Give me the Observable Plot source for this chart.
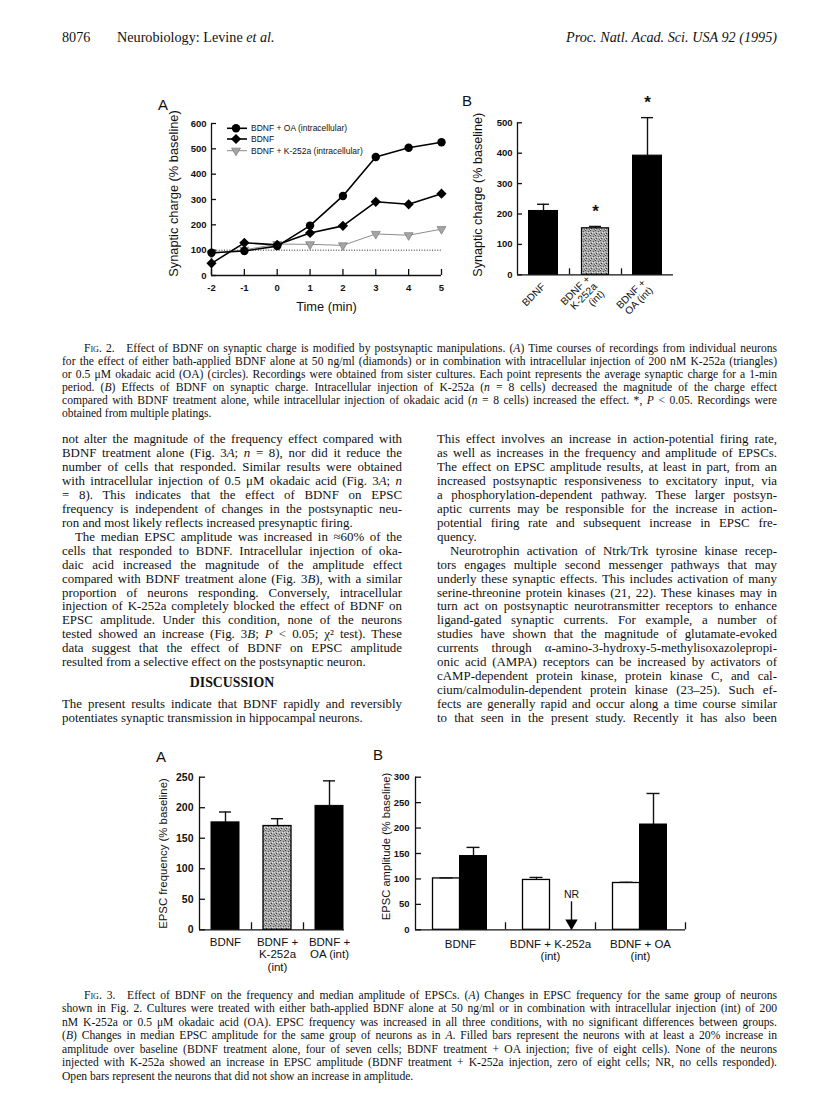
<!DOCTYPE html>
<html><head><meta charset="utf-8">
<script src="https://cdn.jsdelivr.net/npm/d3@7"></script>
<script src="https://cdn.jsdelivr.net/npm/@observablehq/plot@0.6"></script>
<style>
body{margin:0;background:#fff;}
#page{position:relative;width:816px;height:1105px;overflow:hidden;background:#fff;font-family:"Liberation Serif","Times New Roman",serif;color:#111;}
.sc{font-variant:small-caps;}
</style>
</head><body>
<svg width="0" height="0" style="position:absolute">
<defs>
<pattern id="stip" width="5" height="5" patternUnits="userSpaceOnUse">
<rect width="5" height="5" fill="#a8a8a8"/>
<rect x="0" y="0" width="1" height="1" fill="#444"/>
<rect x="3" y="1" width="1" height="1" fill="#555"/>
<rect x="1" y="3" width="1" height="1" fill="#3a3a3a"/>
<rect x="4" y="4" width="1" height="1" fill="#666"/>
<rect x="2" y="2" width="1" height="1" fill="#e8e8e8"/>
<rect x="4" y="2" width="1" height="1" fill="#d8d8d8"/>
<rect x="0" y="4" width="1" height="1" fill="#e0e0e0"/>
</pattern>
</defs>
</svg>
<div id="page"></div>
<script>
// ---------------- DATA ----------------
const timeMin = [-2, -1, 0, 1, 2, 3, 4, 5];
const chargeOA = [90, 97, 116, 197, 314, 468, 504, 526];
const chargeBDNF = [48, 129, 121, 168, 196, 291, 281, 323];
const chargeK252a = [86, 101, 124, 123, 119, 164, 159, 183];
const seriesNames = ["BDNF + OA (intracellular)", "BDNF", "BDNF + K-252a (intracellular)"];
const charge2ATicks = [0, 100, 200, 300, 400, 500, 600];
const baseline = 100;

const fig2BGroups = ["BDNF", "BDNF +\nK-252a\n(int)", "BDNF +\nOA (int)"];
const fig2BCharge = [210, 153, 392];
const fig2BErr = [22, 6, 125];
const fig2BStar = [false, true, true];
const fig2BTicks = [0, 100, 200, 300, 400, 500];

const fig3AGroups = ["BDNF", "BDNF +\nK-252a\n(int)", "BDNF +\nOA (int)"];
const fig3AFreq = [176, 170, 203];
const fig3AErr = [17, 12, 41];
const fig3ATicks = [0, 50, 100, 150, 200, 250];

const fig3BGroups = ["BDNF", "BDNF + K-252a\n(int)", "BDNF + OA\n(int)"];
const fig3BOpen = [101, 98, 92];
const fig3BOpenErr = [1, 5, 1.5];
const fig3BFilled = [145, null, 207];
const fig3BFilledErr = [17, null, 61];
const fig3BTicks = [0, 50, 100, 150, 200, 250, 300];
const nrLabel = "NR";

const headerLeftNum = "8076";
const headerLeft = "Neurobiology: Levine <i>et al.</i>";
const headerRight = "<i>Proc. Natl. Acad. Sci. USA 92 (1995)</i>";

const cap2Lines = [
  '<span class="sc">Fig.</span> 2.&ensp;&ensp;Effect of BDNF on synaptic charge is modified by postsynaptic manipulations. (<i>A</i>) Time courses of recordings from individual neurons',
  'for the effect of either bath-applied BDNF alone at 50 ng/ml (diamonds) or in combination with intracellular injection of 200 nM K-252a (triangles)',
  'or 0.5 μM okadaic acid (OA) (circles). Recordings were obtained from sister cultures. Each point represents the average synaptic charge for a 1-min',
  'period. (<i>B</i>) Effects of BDNF on synaptic charge. Intracellular injection of K-252a (<i>n</i> = 8 cells) decreased the magnitude of the charge effect',
  'compared with BDNF treatment alone, while intracellular injection of okadaic acid (<i>n</i> = 8 cells) increased the effect. *, <i>P</i> &lt; 0.05. Recordings were',
  'obtained from multiple platings.|'
];
const leftCol = [
  'not alter the magnitude of the frequency effect compared with',
  'BDNF treatment alone (Fig. 3<i>A</i>; <i>n</i> = 8), nor did it reduce the',
  'number of cells that responded. Similar results were obtained',
  'with intracellular injection of 0.5 μM okadaic acid (Fig. 3<i>A</i>; <i>n</i>',
  '= 8). This indicates that the effect of BDNF on EPSC',
  'frequency is independent of changes in the postsynaptic neu-',
  'ron and most likely reflects increased presynaptic firing.|',
  '>The median EPSC amplitude was increased in ≈60% of the',
  'cells that responded to BDNF. Intracellular injection of oka-',
  'daic acid increased the magnitude of the amplitude effect',
  'compared with BDNF treatment alone (Fig. 3<i>B</i>), with a similar',
  'proportion of neurons responding. Conversely, intracellular',
  'injection of K-252a completely blocked the effect of BDNF on',
  'EPSC amplitude. Under this condition, none of the neurons',
  'tested showed an increase (Fig. 3<i>B</i>; <i>P</i> &lt; 0.05; χ² test). These',
  'data suggest that the effect of BDNF on EPSC amplitude',
  'resulted from a selective effect on the postsynaptic neuron.|'
];
const discussionHead = "DISCUSSION";
const leftCol2 = [
  'The present results indicate that BDNF rapidly and reversibly',
  'potentiates synaptic transmission in hippocampal neurons.|'
];
const rightCol = [
  'This effect involves an increase in action-potential firing rate,',
  'as well as increases in the frequency and amplitude of EPSCs.',
  'The effect on EPSC amplitude results, at least in part, from an',
  'increased postsynaptic responsiveness to excitatory input, via',
  'a phosphorylation-dependent pathway. These larger postsyn-',
  'aptic currents may be responsible for the increase in action-',
  'potential firing rate and subsequent increase in EPSC fre-',
  'quency.|',
  '>Neurotrophin activation of Ntrk/Trk tyrosine kinase recep-',
  'tors engages multiple second messenger pathways that may',
  'underly these synaptic effects. This includes activation of many',
  'serine-threonine protein kinases (21, 22). These kinases may in',
  'turn act on postsynaptic neurotransmitter receptors to enhance',
  'ligand-gated synaptic currents. For example, a number of',
  'studies have shown that the magnitude of glutamate-evoked',
  'currents through α-amino-3-hydroxy-5-methylisoxazolepropi-',
  'onic acid (AMPA) receptors can be increased by activators of',
  'cAMP-dependent protein kinase, protein kinase C, and cal-',
  'cium/calmodulin-dependent protein kinase (23–25). Such ef-',
  'fects are generally rapid and occur along a time course similar',
  'to that seen in the present study. Recently it has also been'
];
const cap3Lines = [
  '<span class="sc">Fig.</span> 3.&ensp;&ensp;Effect of BDNF on the frequency and median amplitude of EPSCs. (<i>A</i>) Changes in EPSC frequency for the same group of neurons',
  'shown in Fig. 2. Cultures were treated with either bath-applied BDNF alone at 50 ng/ml or in combination with intracellular injection (int) of 200',
  'nM K-252a or 0.5 μM okadaic acid (OA). EPSC frequency was increased in all three conditions, with no significant differences between groups.',
  '(<i>B</i>) Changes in median EPSC amplitude for the same group of neurons as in <i>A</i>. Filled bars represent the neurons with at least a 20% increase in',
  'amplitude over baseline (BDNF treatment alone, four of seven cells; BDNF treatment + OA injection; five of eight cells). None of the neurons',
  'injected with K-252a showed an increase in EPSC amplitude (BDNF treatment + K-252a injection, zero of eight cells; NR, no cells responded).',
  'Open bars represent the neurons that did not show an increase in amplitude.|'
];

// ---------------- HELPERS ----------------
const page = document.getElementById("page");
const sans = '"Liberation Sans", Arial, Helvetica, sans-serif';
const hyphenMinus = d => (d < 0 ? "-" + Math.abs(d) : String(d));

function put(node, left, top, w, h) {
  const d = document.createElement("div");
  d.style.cssText = `position:absolute;left:${left}px;top:${top}px;width:${w}px;height:${h}px;`;
  d.appendChild(node);
  page.appendChild(d);
}
function label(html, x, baseline, fs, opts = {}) {
  const d = document.createElement("div");
  const fam = opts.family || '"Liberation Serif","Times New Roman",serif';
  const asc = opts.family ? 0.905 : 0.891, desc = opts.family ? 0.212 : 0.216;
  const off = (fs - (asc + desc) * fs) / 2 + asc * fs;
  let pos = `left:${x}px;`;
  if (opts.align === "right") pos = `right:${816 - x}px;`;
  if (opts.align === "center") pos = `left:${x - 200}px;width:400px;text-align:center;`;
  d.style.cssText = `position:absolute;${pos}top:${(baseline - off).toFixed(2)}px;font-size:${fs}px;line-height:${fs}px;white-space:nowrap;font-family:${fam};font-weight:${opts.weight || "normal"};`;
  d.innerHTML = html;
  page.appendChild(d);
  return d;
}
function textBlock(lines, {x, y0, lh, w, fs, indent = 13}) {
  lines.forEach((raw, i) => {
    let html = raw, ind = 0, last = false;
    if (html.startsWith(">")) { ind = indent; html = html.slice(1); }
    if (html.endsWith("|")) { last = true; html = html.slice(0, -1); }
    const off = (fs - 1.107 * fs) / 2 + 0.891 * fs;
    const div = document.createElement("div");
    div.style.cssText = `position:absolute;left:${x + ind}px;top:${(y0 + i * lh - off).toFixed(2)}px;font-size:${fs}px;line-height:${fs}px;white-space:nowrap;`;
    const span = document.createElement("span");
    span.innerHTML = html;
    div.appendChild(span);
    page.appendChild(div);
    const avail = w - ind;
    let nat = span.getBoundingClientRect().width;
    const txt = span.textContent;
    if (nat > avail - 1) {
      div.style.letterSpacing = ((avail - 1 - nat) / txt.length).toFixed(3) + "px";
      nat = span.getBoundingClientRect().width;
    }
    if (!last && nat < avail) {
      const spaces = (txt.match(/ /g) || []).length;
      if (spaces) div.style.wordSpacing = ((avail - nat) / spaces).toFixed(3) + "px";
    }
  });
}
const plotStyle = (fs) => ({fontFamily: sans, fontSize: fs + "px", color: "#111", background: "transparent", overflow: "visible"});
const yTitle = (text, dx, dy, fs) => Plot.text([text], {frameAnchor: "left", rotate: -90, textAnchor: "middle", lineAnchor: "middle", dx, dy, text: d => d, fontSize: fs});

// ---------------- HEADER ----------------
label(headerLeftNum, 62, 41.5, 14.2);
label(headerLeft, 117, 41.5, 14.2);
label(headerRight, 777, 41.5, 14.2, {align: "right"});

// ---------------- FIG 2A ----------------
{
  const W = 310, H = 230, ml = 61, mr = 19, mt = 23, mb = 55;
  const long = (ys) => timeMin.map((t, i) => ({t, v: ys[i]}));
  const fig = Plot.plot({
    width: W, height: H, marginLeft: ml, marginRight: mr, marginTop: mt, marginBottom: mb,
    style: plotStyle(9.5),
    x: {domain: [timeMin[0], timeMin[timeMin.length - 1]], label: null},
    y: {domain: [0, 600], label: null},
    marks: [
      Plot.ruleY([baseline], {stroke: "#222", strokeWidth: 1, strokeDasharray: "1,1.6"}),
      Plot.ruleX([timeMin[0]], {strokeWidth: 1.3}),
      Plot.ruleY([0], {strokeWidth: 1.3}),
      Plot.axisY(charge2ATicks, {tickSize: -5, tickPadding: 10, strokeWidth: 1.3, fontWeight: "bold", label: null}),
      Plot.axisX(timeMin, {tickSize: -6, tickPadding: 15, strokeWidth: 1.3, fontWeight: "bold", tickFormat: hyphenMinus, label: null}),
      Plot.line(long(chargeK252a), {x: "t", y: "v", stroke: "#8c8c8c", strokeWidth: 1}),
      Plot.dot(long(chargeK252a), {x: "t", y: "v", symbol: "triangle", rotate: 180, r: 3.3, fill: "#a5a5a5", stroke: "#6a6a6a", strokeWidth: 0.6}),
      Plot.line(long(chargeBDNF), {x: "t", y: "v", stroke: "#000", strokeWidth: 1.6}),
      Plot.dot(long(chargeBDNF), {x: "t", y: "v", symbol: "diamond2", r: 4.6, fill: "#000"}),
      Plot.line(long(chargeOA), {x: "t", y: "v", stroke: "#000", strokeWidth: 1.6}),
      Plot.dot(long(chargeOA), {x: "t", y: "v", symbol: "circle", r: 4.2, fill: "#000"}),
      yTitle("Synaptic charge (% baseline)", -38, -6, 12.8),
      Plot.text(["Time (min)"], {frameAnchor: "bottom", dy: 35, text: d => d, fontSize: 12.8})
    ]
  });
  put(fig, 150, 100, W, H);

  // legend (inside the frame, top left)
  const leg = d3.create("svg").attr("width", 230).attr("height", 45)
    .style("position", "absolute").style("left", "220px").style("top", "118px").style("overflow", "visible");
  const rows = [
    {name: seriesNames[0], stroke: "#000", sw: 1.6, sym: d3.symbolCircle, r: 4.2, fill: "#000", rot: 0},
    {name: seriesNames[1], stroke: "#000", sw: 1.6, sym: d3.symbolDiamond2, r: 4.6, fill: "#000", rot: 0},
    {name: seriesNames[2], stroke: "#8c8c8c", sw: 1, sym: d3.symbolTriangle, r: 3.3, fill: "#a5a5a5", rot: 180}
  ];
  const ys = [10.3, 21, 32.7];
  rows.forEach((r, i) => {
    const g = leg.append("g").attr("transform", `translate(0,${ys[i]})`);
    g.append("line").attr("x1", 7).attr("x2", 27).attr("stroke", r.stroke).attr("stroke-width", r.sw);
    g.append("path").attr("d", d3.symbol(r.sym, Math.PI * r.r * r.r)())
      .attr("transform", `translate(16,0) rotate(${r.rot})`).attr("fill", r.fill)
      .attr("stroke", i === 2 ? "#6a6a6a" : "none").attr("stroke-width", 0.6);
    g.append("text").attr("x", 31).attr("dy", "0.35em").attr("font-family", sans).attr("font-size", 8.5).attr("fill", "#111").text(r.name);
  });
  page.appendChild(leg.node());
  label("A", 158, 110, 15, {family: sans});
}

// ---------------- FIG 2B ----------------
{
  const W = 230, H = 240, ml = 57, mr = 17, mt = 27.3, mb = 60.7;
  const bw = (W - ml - mr) / fig2BGroups.length;
  const barW = 29, capW = 12;
  const data = fig2BGroups.map((g, i) => ({g, i, v: fig2BCharge[i], e: fig2BErr[i], star: fig2BStar[i]}));
  const fig = Plot.plot({
    width: W, height: H, marginLeft: ml, marginRight: mr, marginTop: mt, marginBottom: mb,
    style: plotStyle(9.5),
    x: {domain: fig2BGroups, padding: 0, label: null},
    y: {domain: [0, 500], label: null},
    marks: [
      Plot.barY(data.filter(d => d.i !== 1), {x: "g", y: "v", fill: "#000", stroke: "#000", insetLeft: (bw - barW) / 2, insetRight: (bw - barW) / 2}),
      Plot.barY(data.filter(d => d.i === 1), {x: "g", y: "v", fill: "url(#stip)", stroke: "#000", strokeWidth: 1.2, insetLeft: (bw - barW) / 2 + 1, insetRight: (bw - barW) / 2 + 1}),
      Plot.ruleX(data, {x: "g", y1: "v", y2: d => d.v + d.e, strokeWidth: 1.4}),
      Plot.tickY(data, {x: "g", y: d => d.v + d.e, insetLeft: (bw - capW) / 2, insetRight: (bw - capW) / 2, strokeWidth: 1.4}),
      Plot.text(data.filter(d => d.star), {x: "g", y: d => d.v + d.e, dy: -15, text: () => "*", fontSize: 17, fontWeight: "bold"}),
      Plot.ruleX([fig2BGroups[0]], {dx: -bw / 2, strokeWidth: 1.3}),
      Plot.ruleY([0], {strokeWidth: 1.3}),
      Plot.axisY(fig2BTicks, {tickSize: -5, tickPadding: 10, strokeWidth: 1.3, fontWeight: "bold", label: null}),
      Plot.axisX(fig2BGroups.slice(0, 2), {tickSize: -6, dx: bw / 2, strokeWidth: 1.3, tickFormat: () => "", label: null}),
      Plot.axisX({tickSize: 0, tickRotate: -45, tickPadding: 10, fontSize: 10.2, label: null}),
      yTitle("Synaptic charge (% baseline)", -40, -4, 12.6)
    ]
  });
  put(fig, 460, 95, W, H);
  label("B", 462, 106, 15, {family: sans});
}

// ---------------- CAPTION FIG 2 ----------------
textBlock(cap2Lines.slice(0, 1), {x: 84, y0: 352.5, lh: 13, w: 777 - 84, fs: 11.6});
textBlock(cap2Lines.slice(1), {x: 62, y0: 352.5 + 13, lh: 13, w: 715, fs: 11.6});

// ---------------- BODY ----------------
textBlock(leftCol, {x: 62, y0: 444, lh: 13.94, w: 340, fs: 12.9});
label("<b>" + discussionHead + "</b>", 232, 688, 13.8, {align: "center"});
textBlock(leftCol2, {x: 62, y0: 709, lh: 13.94, w: 340, fs: 12.9});
textBlock(rightCol, {x: 437, y0: 444, lh: 13.94, w: 340, fs: 12.9});

// ---------------- FIG 3A ----------------
{
  const W = 215, H = 240, ml = 49, mr = 10, mt = 31.7, mb = 55.7;
  const bw = (W - ml - mr) / fig3AGroups.length;
  const barW = 28, capW = 12;
  const data = fig3AGroups.map((g, i) => ({g, i, v: fig3AFreq[i], e: fig3AErr[i]}));
  const fig = Plot.plot({
    width: W, height: H, marginLeft: ml, marginRight: mr, marginTop: mt, marginBottom: mb,
    style: plotStyle(10.5),
    x: {domain: fig3AGroups, padding: 0, label: null},
    y: {domain: [0, 250], label: null},
    marks: [
      Plot.barY(data.filter(d => d.i !== 1), {x: "g", y: "v", fill: "#000", stroke: "#000", insetLeft: (bw - barW) / 2, insetRight: (bw - barW) / 2}),
      Plot.barY(data.filter(d => d.i === 1), {x: "g", y: "v", fill: "url(#stip)", stroke: "#000", strokeWidth: 1.3, insetLeft: (bw - barW) / 2, insetRight: (bw - barW) / 2}),
      Plot.ruleX(data, {x: "g", y1: "v", y2: d => d.v + d.e, strokeWidth: 1.4}),
      Plot.tickY(data, {x: "g", y: d => d.v + d.e, insetLeft: (bw - capW) / 2, insetRight: (bw - capW) / 2, strokeWidth: 1.4}),
      Plot.ruleX([fig3AGroups[0]], {dx: -bw / 2, strokeWidth: 1.3}),
      Plot.ruleY([0], {strokeWidth: 1.3, insetRight: (bw - barW) / 2 - 1}),
      Plot.axisY(fig3ATicks, {tickSize: -6, tickPadding: 12, strokeWidth: 1.3, fontWeight: "bold", label: null}),
      Plot.axisX(fig3AGroups.slice(0, 2), {tickSize: -7, dx: bw / 2, strokeWidth: 1.3, tickFormat: () => "", label: null}),
      Plot.axisX({tickSize: 0, tickPadding: 8, fontSize: 11.5, lineHeight: 1.05, label: null}),
      yTitle("EPSC frequency (% baseline)", -36, 0, 11.4)
    ]
  });
  put(fig, 150, 745, W, H);
  label("A", 156, 762, 15, {family: sans});
}

// ---------------- FIG 3B ----------------
{
  const W = 330, H = 240, ml = 45, mr = 15, mt = 31.7, mb = 55.7;
  const bw = (W - ml - mr) / fig3BGroups.length;
  const pad = 17.5, barW = 27, capW = 13;
  const data = fig3BGroups.map((g, i) => ({g, i, o: fig3BOpen[i], oe: fig3BOpenErr[i], f: fig3BFilled[i], fe: fig3BFilledErr[i]}));
  const filled = data.filter(d => d.f != null);
  const nr = data.filter(d => d.f == null);
  const openC = pad + barW / 2 - bw / 2;
  const fillC = pad + 1.5 * barW - bw / 2;
  const cap = (c) => ({insetLeft: bw / 2 + c - capW / 2, insetRight: bw / 2 - c - capW / 2});
  const fig = Plot.plot({
    width: W, height: H, marginLeft: ml, marginRight: mr, marginTop: mt, marginBottom: mb,
    style: plotStyle(10.5),
    x: {domain: fig3BGroups, padding: 0, label: null},
    y: {domain: [0, 300], label: null},
    marks: [
      Plot.barY(data, {x: "g", y: "o", fill: "#fff", stroke: "#000", strokeWidth: 1.3, insetLeft: pad, insetRight: bw - pad - barW}),
      Plot.barY(filled, {x: "g", y: "f", fill: "#000", stroke: "#000", insetLeft: pad + barW, insetRight: bw - pad - 2 * barW}),
      Plot.ruleX(data, {x: "g", y1: "o", y2: d => d.o + d.oe, dx: openC, strokeWidth: 1.3}),
      Plot.tickY(data, {x: "g", y: d => d.o + d.oe, ...cap(openC), strokeWidth: 1.3}),
      Plot.ruleX(filled, {x: "g", y1: "f", y2: d => d.f + d.fe, dx: fillC, strokeWidth: 1.4}),
      Plot.tickY(filled, {x: "g", y: d => d.f + d.fe, ...cap(fillC), strokeWidth: 1.4}),
      Plot.text(nr, {x: "g", y: () => 70, dx: fillC + 8, text: () => nrLabel, fontSize: 10.5}),
      Plot.ruleX(nr, {x: "g", y1: () => 55, y2: () => 16, dx: fillC + 8, strokeWidth: 1.4}),
      Plot.dot(nr, {x: "g", y: () => 13, dx: fillC + 8, symbol: "triangle", rotate: 180, r: 4.6, fill: "#000"}),
      Plot.ruleX([fig3BGroups[0]], {dx: -bw / 2, strokeWidth: 1.3}),
      Plot.ruleY([0], {strokeWidth: 1.3}),
      Plot.axisY(fig3BTicks, {tickSize: -6, tickPadding: 12, strokeWidth: 1.3, fontSize: 9.5, fontWeight: "bold", label: null}),
      Plot.axisX(fig3BGroups, {tickSize: -7, dx: bw / 2, strokeWidth: 1.3, tickFormat: () => "", label: null}),
      Plot.axisX({tickSize: 0, tickPadding: 9, fontSize: 11.5, lineHeight: 1.1, label: null}),
      yTitle("EPSC amplitude (% baseline)", -29, -7, 11.2)
    ]
  });
  put(fig, 370, 745, W, H);
  label("B", 373, 760, 15, {family: sans});
}

// ---------------- CAPTION FIG 3 ----------------
textBlock(cap3Lines.slice(0, 1), {x: 84, y0: 999.5, lh: 13.5, w: 777 - 84, fs: 11.6});
textBlock(cap3Lines.slice(1), {x: 62, y0: 999.5 + 13.5, lh: 13.5, w: 715, fs: 11.6});
</script>
</body></html>
